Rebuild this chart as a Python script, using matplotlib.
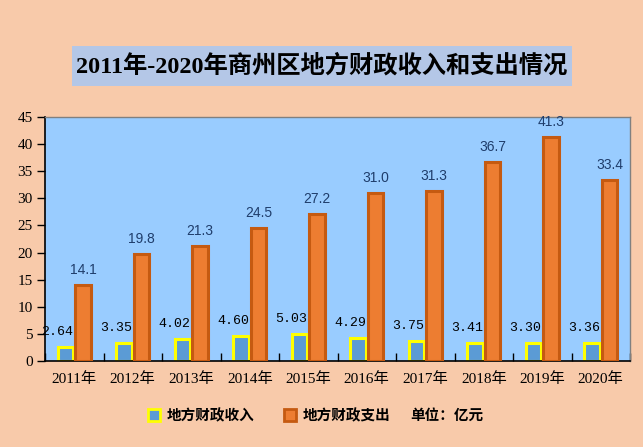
import matplotlib
matplotlib.use('Agg')
import numpy as np
import matplotlib.pyplot as plt
from matplotlib.lines import Line2D
from matplotlib.patches import Rectangle

plt.rcParams['font.family'] = ['Liberation Serif', 'Noto Sans CJK SC']

# data (亿元)
years = ['2011年', '2012年', '2013年', '2014年', '2015年',
         '2016年', '2017年', '2018年', '2019年', '2020年']
income = [2.64, 3.35, 4.02, 4.60, 5.03, 4.29, 3.75, 3.41, 3.30, 3.36]
spend = [14.1, 19.8, 21.3, 24.5, 27.2, 31.0, 31.3, 36.7, 41.3, 33.4]
income_labels = ['2.64', '3.35', '4.02', '4.60', '5.03',
                 '4.29', '3.75', '3.41', '3.30', '3.36']
spend_labels = ['14.1', '19.8', '21.3', '24.5', '27.2',
                '31.0', '31.3', '36.7', '41.3', '33.4']
y_ticks = [0, 5, 10, 15, 20, 25, 30, 35, 40, 45]

W, H, DPI = 643, 447, 100
fig = plt.figure(figsize=(W / DPI, H / DPI), dpi=DPI)
fig.patch.set_facecolor('#F8CAAA')

# title box
fig.add_artist(Rectangle((72 / W, 1 - 86 / H), 500 / W, 40 / H,
                         transform=fig.transFigure, facecolor='#B4C7E7',
                         edgecolor='none'))
fig.text(322 / W, 1 - 66 / H, '2011年-2020年商州区地方财政收入和支出情况',
         ha='center', va='center', fontsize=17.5, fontweight='bold',
         color='black')

ax = fig.add_axes([45 / W, 1 - 361 / H, 585 / W, 244 / H])
ax.set_facecolor('#99CCFF')

x = np.arange(len(years))
bw = 0.27
ax.bar(x - 0.15, income, bw, color='#5B9BD5', edgecolor='#FFFF00',
       linewidth=2.2, zorder=2)
ax.bar(x + 0.15, spend, bw, color='#ED7D31', edgecolor='#C55A11',
       linewidth=2.2, zorder=3)

for i in range(len(years)):
    ax.annotate(income_labels[i], (x[i] - 0.15, income[i]),
                xytext=(-8, 15), textcoords='offset pixels',
                ha='center', va='center', fontsize=9.5,
                family='Liberation Mono', color='black', zorder=5)
    ax.annotate(spend_labels[i], (x[i] + 0.15, spend[i]),
                xytext=(0, 15), textcoords='offset pixels',
                ha='center', va='center', fontsize=10,
                family='Liberation Sans', color='#1F3D6B', zorder=5)

ax.set_xlim(-0.5, len(years) - 0.5)
ax.set_ylim(0, 45)
ax.set_yticks(y_ticks)
ax.set_yticklabels([str(v) for v in y_ticks], fontsize=11)
ax.set_xticks(x)
ax.set_xticklabels(years, fontsize=11)
ax.set_xticks(np.arange(len(years) + 1) - 0.5, minor=True)
ax.tick_params(axis='x', which='major', length=0, pad=8)
ax.tick_params(axis='x', which='minor', direction='in', length=6,
               color='black', width=1)
ax.tick_params(axis='y', direction='out', length=6, width=1, pad=3)

for s in ['left', 'bottom']:
    ax.spines[s].set_color('black')
    ax.spines[s].set_linewidth(1.2)
for s in ['top', 'right']:
    ax.spines[s].set_color('#808080')
    ax.spines[s].set_linewidth(1.0)

# legend
handles = [Line2D([], [], linestyle='none', marker='s', markersize=8,
                  markerfacecolor='#5B9BD5', markeredgecolor='#FFFF00',
                  markeredgewidth=2),
           Line2D([], [], linestyle='none', marker='s', markersize=8,
                  markerfacecolor='#ED7D31', markeredgecolor='#C55A11',
                  markeredgewidth=2)]
leg = fig.legend(handles, ['地方财政收入', '地方财政支出'], loc='center left',
                 bbox_to_anchor=(148 / W, 1 - 415 / H), ncol=2,
                 frameon=False, handlelength=0.8, handletextpad=0.5,
                 columnspacing=2.0, borderaxespad=0, borderpad=0,
                 prop={'family': 'Noto Sans CJK SC', 'size': 10.5,
                       'weight': 'bold'})
fig.text(410 / W, 1 - 415 / H, '单位：亿元', ha='left', va='center',
         fontsize=10.5, family='Noto Sans CJK SC', fontweight='bold')

fig.savefig('out.png', dpi=DPI, facecolor=fig.get_facecolor())
